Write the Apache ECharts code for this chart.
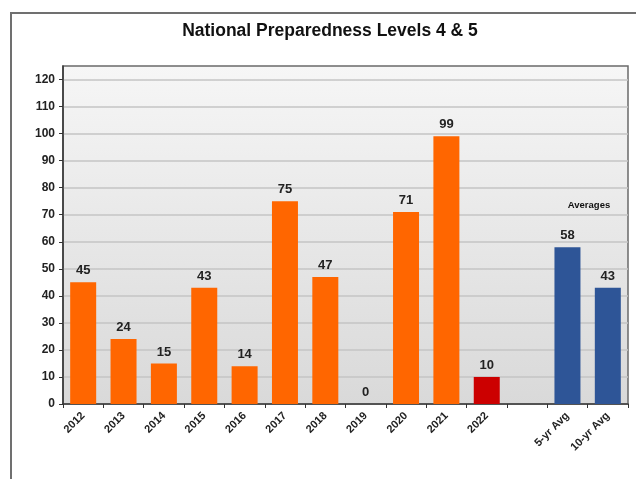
<!DOCTYPE html>
<html><head><meta charset="utf-8">
<script src="https://cdn.jsdelivr.net/npm/echarts@6/dist/echarts.min.js"></script>
<style>html,body{margin:0;padding:0;background:#fff}#c{width:636px;height:479px}</style>
</head><body><div id="c"></div>
<script>
const categories = ['2012','2013','2014','2015','2016','2017','2018','2019','2020','2021','2022','','5-yr Avg','10-yr Avg'];
const values = [45,24,15,43,14,75,47,0,71,99,10,null,58,43];
const barColors = ['#FF6600','#FF6600','#FF6600','#FF6600','#FF6600','#FF6600','#FF6600','#FF6600','#FF6600','#FF6600','#CC0000',null,'#2E5597','#2E5597'];
const yTicks = [0,10,20,30,40,50,60,70,80,90,100,110,120];
const titleText = 'National Preparedness Levels 4 & 5';
const avgLabel = 'Averages';
const FONT = "'Liberation Sans',Arial,sans-serif";

const chart = echarts.init(document.getElementById('c'), null, {renderer:'canvas'});
chart.setOption({
  animation:false,
  backgroundColor:'#fff',
  graphic:[
    {type:'rect', shape:{x:11,y:13,width:640,height:480}, style:{fill:'none',stroke:'#707070',lineWidth:2}, z:-10},
    {type:'text', x:330, y:31, style:{text:titleText, font:"bold 17.5px "+FONT, fill:'#111', textAlign:'center', textVerticalAlign:'middle'}},
    {type:'text', x:589, y:205, style:{text:avgLabel, font:"bold 9.5px "+FONT, fill:'#111', textAlign:'center', textVerticalAlign:'middle'}}
  ],
  grid:{left:63, right:8, top:66, bottom:75, show:true, borderColor:'#6a6a6a', borderWidth:1.5,
    backgroundColor:{type:'linear',x:0,y:0,x2:0,y2:1,colorStops:[{offset:0,color:'#f6f6f6'},{offset:1,color:'#d9d9d9'}]}},
  xAxis:{type:'category', data:categories,
    axisLine:{lineStyle:{color:'#333',width:1.5}},
    axisTick:{show:true, alignWithLabel:false, length:4, inside:false, lineStyle:{color:'#333'}},
    axisLabel:{rotate:45, interval:0, fontFamily:FONT, fontSize:11, fontWeight:'bold', color:'#222', margin:10}},
  yAxis:{type:'value', min:0, max:125, interval:5,
    axisLine:{show:true, lineStyle:{color:'#333',width:1.5}},
    axisTick:{show:true, length:4, lineStyle:{color:'#333'}, customValues:yTicks},
    axisLabel:{fontFamily:FONT, fontSize:12, fontWeight:'bold', color:'#222', margin:8, customValues:yTicks},
    splitLine:{show:true, lineStyle:{color:'#c4c4c4', width:1.5}}},
  series:[{type:'bar', barWidth:26,
    data: values.map((v,i)=>({value:v, itemStyle:{color:barColors[i]||'#000'}})),
    label:{show:true, position:'top', distance:5, fontFamily:FONT, fontSize:13, fontWeight:'bold', color:'#222',
      formatter:p=> p.value==null?'':String(p.value)}}]
});
</script></body></html>
